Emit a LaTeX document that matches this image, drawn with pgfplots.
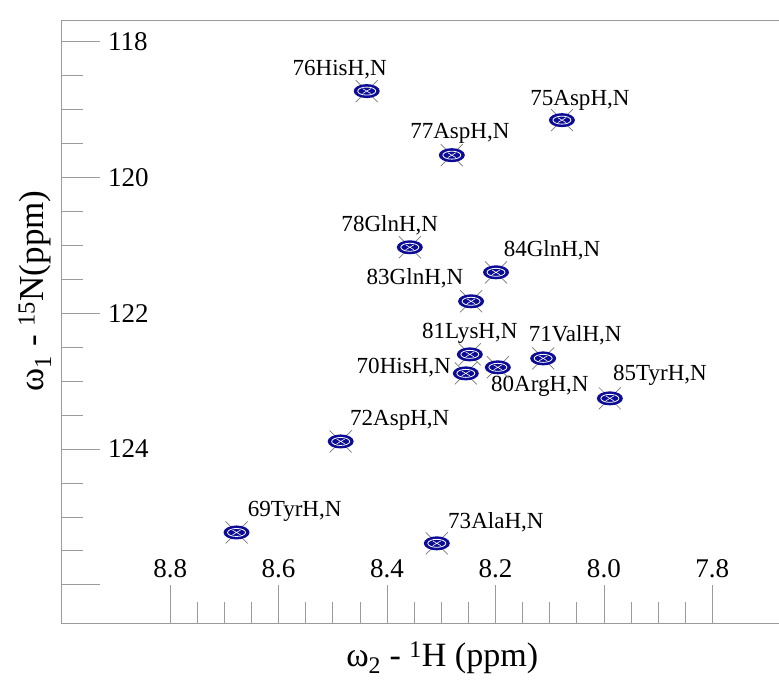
\documentclass[border=0pt]{standalone}
\usepackage{pgfplots}
\pgfplotsset{compat=1.18}
\usepackage{fontspec}
\setmainfont{Liberation Serif}
\usetikzlibrary{calc}
\definecolor{peakblue}{RGB}{12,12,150}
\definecolor{crossgray}{RGB}{120,120,120}
\definecolor{axgray}{RGB}{155,155,155}
\pgfdeclareplotmark{nmrpeak}{%
 \pgfsetlinewidth{0.7pt}%
 \pgfsetstrokecolor{crossgray}%
 \pgfpathmoveto{\pgfqpoint{-11pt}{-11pt}}\pgfpathlineto{\pgfqpoint{11pt}{11pt}}%
 \pgfpathmoveto{\pgfqpoint{-11pt}{11pt}}\pgfpathlineto{\pgfqpoint{11pt}{-11pt}}%
 \pgfusepath{stroke}%
 \pgfsetfillcolor{peakblue}%
 \pgfpathellipse{\pgfpointorigin}{\pgfqpoint{13pt}{0pt}}{\pgfqpoint{0pt}{7pt}}%
 \pgfusepath{fill}%
 \pgfsetstrokecolor{white}\pgfsetlinewidth{0.8pt}%
 \pgfpathellipse{\pgfpointorigin}{\pgfqpoint{9pt}{0pt}}{\pgfqpoint{0pt}{4pt}}%
 \pgfusepath{stroke}%
 \pgfsetlinewidth{0.6pt}%
 \pgfpathmoveto{\pgfqpoint{-4pt}{-2.4pt}}\pgfpathlineto{\pgfqpoint{4pt}{2.4pt}}%
 \pgfpathmoveto{\pgfqpoint{-4pt}{2.4pt}}\pgfpathlineto{\pgfqpoint{4pt}{-2.4pt}}%
 \pgfusepath{stroke}%
}
\pgfplotstableread{
x y
8.4375 118.727
8.0774 119.155
8.2805 119.671
8.3580 121.028
8.1990 121.397
8.2450 121.824
8.2473 122.606
8.1120 122.665
8.2547 122.886
8.1956 122.797
7.9890 123.254
8.4855 123.889
8.6776 125.230
8.3082 125.390
}\peaks
\begin{document}
\begin{tikzpicture}
\begin{axis}[name=ax,
  scale only axis, width=716.4pt, height=602.7pt,
  xmin=7.677, xmax=9.0, ymin=117.68, ymax=126.57,
  x dir=reverse, y dir=reverse,
  axis line style={draw=none},
  tick align=inside,
  xtick pos=lower, ytick pos=left,
  xtick={7.8,8.0,8.2,8.4,8.6,8.8},
  xticklabels={7.8,8.0,8.2,8.4,8.6,8.8},
  minor x tick num=3,
  ytick={118,120,122,124,126},
  yticklabels={118,120,122,124,{}},
  minor y tick num=3,
  major tick length=38pt, minor tick length=21pt,
  tick style={axgray, line width=0.7pt},
  /pgf/number format/assume math mode=true,
  ticklabel style={font=\rmfamily\fontsize{27}{27}\selectfont, inner sep=0pt},
  yticklabel style={anchor=west, xshift=46pt},
  xticklabel style={anchor=south, yshift=45pt},
  clip=false,
]
\addplot[only marks, mark=nmrpeak] table[x=x,y=y] {\peaks};
\begin{scope}[every node/.style={font=\rmfamily\fontsize{23}{23}\selectfont, inner sep=0pt, anchor=center}]
\node[xshift=-27pt, yshift=21pt] at (axis cs:8.4375,118.727) {76HisH,N};
\node[xshift=18pt, yshift=20pt] at (axis cs:8.0774,119.155) {75AspH,N};
\node[xshift=8pt, yshift=22pt] at (axis cs:8.2805,119.671) {77AspH,N};
\node[xshift=-20pt, yshift=22pt] at (axis cs:8.3580,121.028) {78GlnH,N};
\node[xshift=56pt, yshift=22pt] at (axis cs:8.1990,121.397) {84GlnH,N};
\node[xshift=-56pt, yshift=23pt] at (axis cs:8.2450,121.824) {83GlnH,N};
\node[xshift=0pt, yshift=21pt] at (axis cs:8.2473,122.606) {81LysH,N};
\node[xshift=32pt, yshift=23pt] at (axis cs:8.1120,122.665) {71ValH,N};
\node[xshift=-62pt, yshift=6pt] at (axis cs:8.2547,122.886) {70HisH,N};
\node[xshift=42pt, yshift=-19pt] at (axis cs:8.1956,122.797) {80ArgH,N};
\node[xshift=50pt, yshift=23pt] at (axis cs:7.9890,123.254) {85TyrH,N};
\node[xshift=59pt, yshift=21pt] at (axis cs:8.4855,123.889) {72AspH,N};
\node[xshift=58pt, yshift=21pt] at (axis cs:8.6776,125.230) {69TyrH,N};
\node[xshift=59pt, yshift=21pt] at (axis cs:8.3082,125.390) {73AlaH,N};
\end{scope}
\end{axis}
\draw[axgray, line width=0.9pt] (ax.north east) -- (ax.north west) -- (ax.south west) -- (ax.south east);
\node[font=\rmfamily\fontsize{34}{34}\selectfont, anchor=center] at ($(ax.south west)+(380pt,-34pt)$) {ω\textsubscript{2} - \textsuperscript{1}H (ppm)};
\node[font=\rmfamily\fontsize{35}{35}\selectfont, anchor=center, rotate=90] at ($(ax.south west)+(-27pt,332pt)$) {ω\textsubscript{1} - \textsuperscript{15}N(ppm)};
\pgfresetboundingbox
\path[use as bounding box] ($(ax.south west)+(-61.7pt,-58pt)$) rectangle ($(ax.north east)+(0pt,20pt)$);
\end{tikzpicture}
\end{document}
